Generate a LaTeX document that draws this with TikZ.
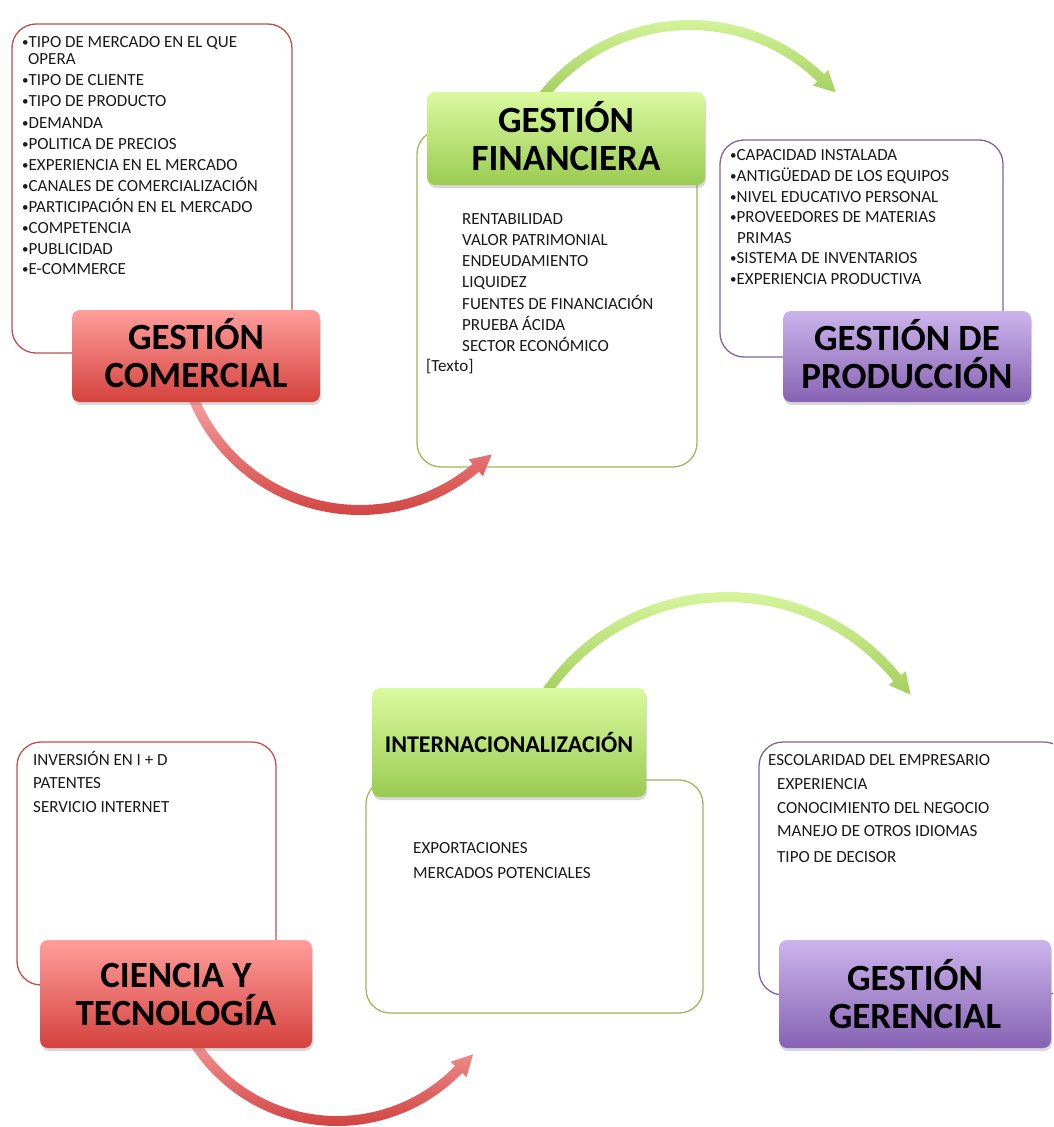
\documentclass[tikz,border=0pt]{standalone}
\usepackage{fontspec}
\setmainfont{Carlito}
\usetikzlibrary{calc,shadows}
\definecolor{redline}{HTML}{C0504D}
\definecolor{greenline}{HTML}{9BBB59}
\definecolor{purpleline}{HTML}{8064A2}
\definecolor{redtop}{HTML}{FF9E9C}
\definecolor{redbot}{HTML}{D4423D}
\definecolor{greentop}{HTML}{DAFA9F}
\definecolor{greenbot}{HTML}{9ACB52}
\definecolor{purpletop}{HTML}{CBB4EC}
\definecolor{purplebot}{HTML}{8763B3}
\definecolor{arcredtop}{HTML}{FBA8A8}
\definecolor{arcredbot}{HTML}{D0403E}
\definecolor{arcgreentop}{HTML}{D8F7A0}
\definecolor{arcgreenbot}{HTML}{A3CF5C}
\definecolor{txt}{HTML}{1A1A1A}
\newcommand{\arcarrow}[7]{%
  \shade[top color=#6, bottom color=#7]
    ($(#1)+({#3}:{#2+5})$) arc[start angle=#3, end angle=#4, radius=#2+5]
    -- ($(#1)+({#4}:{#2+11})$) -- ($(#1)+({#4}:{#2})+({#5}:21)$)
    -- ($(#1)+({#4}:{#2-11})$) -- ($(#1)+({#4}:{#2-5})$)
    arc[start angle=#4, end angle=#3, radius=#2-5] -- cycle;}
\newcommand{\bul}{\raisebox{0.5pt}{\fontsize{13}{13}\selectfont •}}
\newcommand{\dnstrut}{\rule[-6pt]{0pt}{6pt}}
\tikzset{
  box/.style={draw, line width=1.3pt, rounded corners=24pt, inner sep=0pt},
  hdr/.style={rounded corners=8pt, inner sep=0pt, align=center, text=black,
    font=\fontsize{37}{38}\selectfont\bfseries,
    drop shadow={opacity=0.3, shadow xshift=1pt, shadow yshift=-3pt}},
  redhdr/.style={hdr, top color=redtop, bottom color=redbot},
  greenhdr/.style={hdr, top color=greentop, bottom color=greenbot},
  purplehdr/.style={hdr, top color=purpletop, bottom color=purplebot},
  item/.style={anchor=base west, inner sep=0pt, text=txt, font=\fontsize{17}{19}\selectfont},
}
\begin{document}
\begin{tikzpicture}[x=1pt,y=1pt]
\clip (0,0) rectangle (1053,-1127);
\fill[white] (0,0) rectangle (1053,-1127);

% ---------- text boxes ----------
\node[box, draw=redline, minimum width=280pt, minimum height=329pt] (bcom) at (152,-188.5) {};
\node[box, draw=greenline, minimum width=280pt, minimum height=337pt] (bfin) at (557,-298.5) {};
\node[box, draw=purpleline, minimum width=283pt, minimum height=217pt] (bpro) at (861.5,-248.5) {};
\node[box, draw=redline, minimum width=259pt, minimum height=243pt] (bcie) at (146.5,-863.5) {};
\node[box, draw=greenline, minimum width=337pt, minimum height=233pt] (bint) at (534.5,-896.5) {};
\node[box, draw=purpleline, minimum width=309pt, minimum height=253pt] (bger) at (913.5,-868.5) {};

% ---------- curved arrows ----------
\coordinate (ca1) at (360,-330);
\coordinate (ca2) at (690,-213);
\coordinate (ca3) at (337,-952);
\coordinate (ca4) at (727,-816);
\arcarrow{ca1}{180}{198}{310}{40}{arcredtop}{arcredbot}
\arcarrow{ca2}{188}{141}{46}{-44}{arcgreentop}{arcgreenbot}
\arcarrow{ca3}{169}{205}{316}{46}{arcredtop}{arcredbot}
\arcarrow{ca4}{219}{146}{39}{-51}{arcgreentop}{arcgreenbot}

% ---------- headers ----------
\node[redhdr, minimum width=248pt, minimum height=92pt] (hcom) at (196,-356) {GESTIÓN\\COMERCIAL\dnstrut};
\node[greenhdr, minimum width=278pt, minimum height=93pt] (hfin) at (566,-138.5) {GESTIÓN\\FINANCIERA\dnstrut};
\node[purplehdr, minimum width=248pt, minimum height=91pt] (hpro) at (907,-356.5) {GESTIÓN DE\\PRODUCCIÓN\dnstrut};
\node[redhdr, minimum width=272pt, minimum height=108pt] (hcie) at (176,-994) {CIENCIA Y\\TECNOLOGÍA};
\node[greenhdr, minimum width=274pt, minimum height=109pt, font=\fontsize{24}{26}\selectfont\bfseries] (hint) at (509,-742.5) {INTERNACIONALIZACIÓN};
\node[purplehdr, minimum width=272pt, minimum height=108pt] (hger) at (915,-994) {GESTIÓN\\GERENCIAL};

% ---------- lists ----------
\foreach \x/\y/\t [count=\i] in {
  22/47/{\bul TIPO DE MERCADO EN EL QUE}, 28/64/{OPERA}, 22/85/{\bul TIPO DE CLIENTE},
  22/106/{\bul TIPO DE PRODUCTO}, 22/128/{\bul DEMANDA}, 22/149/{\bul POLITICA DE PRECIOS},
  22/170/{\bul EXPERIENCIA EN EL MERCADO}, 22/191/{\bul CANALES DE COMERCIALIZACIÓN},
  22/212/{\bul PARTICIPACIÓN EN EL MERCADO}, 22/233/{\bul COMPETENCIA},
  22/254/{\bul PUBLICIDAD}, 22/274/{\bul E-COMMERCE}}
  \node[item] (tcom\i) at (\x,-\y) {\t};

\foreach \x/\y/\t [count=\i] in {
  462/224/{RENTABILIDAD}, 462/245/{VALOR PATRIMONIAL}, 462/266/{ENDEUDAMIENTO},
  462/287/{LIQUIDEZ}, 462/309/{FUENTES DE FINANCIACIÓN}, 462/330/{PRUEBA ÁCIDA},
  462/351/{SECTOR ECONÓMICO}, 426/371/{[Texto]}}
  \node[item] (tfin\i) at (\x,-\y) {\t};

\foreach \x/\y/\t [count=\i] in {
  730/160/{\bul CAPACIDAD INSTALADA}, 730/181/{\bul ANTIGÜEDAD DE LOS EQUIPOS},
  730/202/{\bul NIVEL EDUCATIVO PERSONAL}, 730/222/{\bul PROVEEDORES DE MATERIAS},
  737/243/{PRIMAS}, 730/263/{\bul SISTEMA DE INVENTARIOS}, 730/284/{\bul EXPERIENCIA PRODUCTIVA}}
  \node[item] (tpro\i) at (\x,-\y) {\t};

\foreach \x/\y/\t [count=\i] in {
  33/765/{INVERSIÓN EN I + D}, 33/788/{PATENTES}, 33/812/{SERVICIO INTERNET}}
  \node[item] (tcie\i) at (\x,-\y) {\t};

\foreach \x/\y/\t [count=\i] in {
  413/853/{EXPORTACIONES}, 413/878/{MERCADOS POTENCIALES}}
  \node[item] (tint\i) at (\x,-\y) {\t};

\foreach \x/\y/\t [count=\i] in {
  768/765/{ESCOLARIDAD DEL EMPRESARIO}, 777/789/{EXPERIENCIA},
  777/813/{CONOCIMIENTO DEL NEGOCIO}, 777/836/{MANEJO DE OTROS IDIOMAS},
  777/862/{TIPO DE DECISOR}}
  \node[item] (tger\i) at (\x,-\y) {\t};
\end{tikzpicture}
\end{document}
